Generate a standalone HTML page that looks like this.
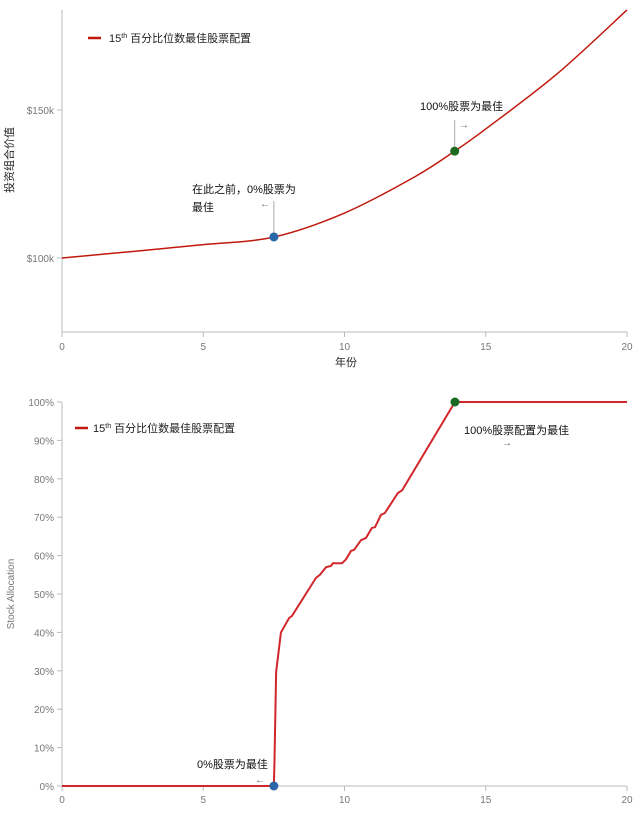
<!DOCTYPE html>
<html><head><meta charset="utf-8"><style>
body{margin:0;background:#fff;font-family:"Liberation Sans","Noto Sans CJK SC",sans-serif;}
svg text{font-family:"Liberation Sans","Noto Sans CJK SC",sans-serif;}
</style></head><body>
<svg id="c" width="642" height="826"></svg>
<script>
const valueYears=[0,2.5,5,7.5,10,12.5,13.9,15,17.5,20];
const valueK=[100,102.2,104.5,107.1,115.2,127.5,136.1,143.6,162,183.8];
const allocYears=[0,7.5,7.52,7.58,7.75,8.04,8.14,8.99,9.13,9.35,9.52,9.59,9.91,10.05,10.23,10.34,10.58,10.76,10.97,11.08,11.29,11.43,11.89,12.04,13.91,20];
const allocPct=[0,0,6,29.7,40,43.75,44.3,54.2,55,57,57.3,58,58,59,61.2,61.5,64,64.6,67.2,67.4,70.6,71.1,76.3,77,100,100];
const xTicks=[0,5,10,15,20];
const vTicks=[100,150];
const pTicks=[0,10,20,30,40,50,60,70,80,90,100];
const NS="http://www.w3.org/2000/svg";
const svg=document.getElementById('c');
function el(t,a,txt){const e=document.createElementNS(NS,t);for(const k in a)e.setAttribute(k,a[k]);if(txt!==undefined)e.textContent=txt;svg.appendChild(e);return e;}
const X=y=>62+y*28.25;
const VY=v=>258-(v-100)*2.96;
const PY=p=>786-p*3.84;
let a=el('line',{x1:62,y1:10,x2:62,y2:332,stroke:'#bbb'});
a=el('line',{x1:62,y1:332,x2:627,y2:332,stroke:'#bbb'});
xTicks.forEach(t=>{el('line',{x1:X(t),y1:332,x2:X(t),y2:337,stroke:'#bbb'});
 let tx=el('text',{x:X(t),y:350,'font-size':10,fill:'#777','text-anchor':'middle'},t);});
vTicks.forEach(t=>{el('line',{x1:57,y1:VY(t),x2:62,y2:VY(t),stroke:'#bbb'});
 let tx=el('text',{x:54,y:VY(t)+4,'font-size':10,fill:'#777','text-anchor':'end'},'$'+t+'k');});
let t=el('text',{x:346,y:366,'font-size':11,fill:'#222','text-anchor':'middle'},'年份');
t=el('text',{x:0,y:0,'font-size':11,fill:'#222','text-anchor':'middle',transform:'translate(13,160) rotate(-90)'},'投资组合价值');
let pts=valueYears.map((y,i)=>[X(y),VY(valueK[i])]);
let d='M'+pts[0];
for(let i=0;i<pts.length-1;i++){const p0=pts[Math.max(0,i-1)],p1=pts[i],p2=pts[i+1],p3=pts[Math.min(pts.length-1,i+2)];
 d+=' C'+(p1[0]+(p2[0]-p0[0])/6)+','+(p1[1]+(p2[1]-p0[1])/6)+' '+(p2[0]-(p3[0]-p1[0])/6)+','+(p2[1]-(p3[1]-p1[1])/6)+' '+p2[0]+','+p2[1];}
let p=el('path',{d:d,fill:'none',stroke:'#c0180c','stroke-width':1.5});
el('line',{x1:X(7.5),y1:VY(107.1),x2:X(7.5),y2:201,stroke:'#aaa'});
el('line',{x1:X(13.9),y1:VY(136.1),x2:X(13.9),y2:120,stroke:'#aaa'});
let c=el('circle',{cx:X(7.5),cy:VY(107.1),r:4.5,fill:'#2a67a8'});
c=el('circle',{cx:X(13.9),cy:VY(136.1),r:4.5,fill:'#1d6b22'});
t=el('text',{x:192,y:193,'font-size':11,fill:'#111'},'在此之前，0%股票为');
el('text',{x:192,y:211,'font-size':11,fill:'#111'},'最佳');
el('text',{x:260,y:207,'font-size':10,fill:'#666'},'←');
t=el('text',{x:420,y:110,'font-size':11,fill:'#111'},'100%股票为最佳');
el('text',{x:459,y:128,'font-size':10,fill:'#666'},'→');
el('line',{x1:88,y1:38,x2:101,y2:38,stroke:'#c0180c','stroke-width':2.5});
t=el('text',{x:109,y:42,'font-size':11,fill:'#222'},'');
t.innerHTML='15<tspan font-size="7" dy="-4">th</tspan><tspan dy="4"> 百分比位数最佳股票配置</tspan>';
a=el('line',{x1:62,y1:402,x2:62,y2:786,stroke:'#bbb'});
a=el('line',{x1:62,y1:786,x2:627,y2:786,stroke:'#bbb'});
xTicks.forEach(tk=>{el('line',{x1:X(tk),y1:786,x2:X(tk),y2:791,stroke:'#bbb'});
 let tx=el('text',{x:X(tk),y:803,'font-size':10,fill:'#777','text-anchor':'middle'},tk);});
pTicks.forEach(tk=>{el('line',{x1:57,y1:PY(tk),x2:62,y2:PY(tk),stroke:'#bbb'});
 let tx=el('text',{x:54,y:PY(tk)+4,'font-size':10,fill:'#777','text-anchor':'end'},tk+'%');});
t=el('text',{x:0,y:0,'font-size':10,fill:'#777','text-anchor':'middle',transform:'translate(14,594) rotate(-90)'},'Stock Allocation');
p=el('polyline',{points:allocYears.map((y,i)=>X(y)+','+PY(allocPct[i])).join(' '),fill:'none',stroke:'#d1272b','stroke-width':2});
c=el('circle',{cx:X(7.5),cy:PY(0),r:4.5,fill:'#2a67a8'});
c=el('circle',{cx:X(13.91),cy:PY(100),r:4.5,fill:'#1d6b22'});
t=el('text',{x:197,y:768,'font-size':11,fill:'#111'},'0%股票为最佳');
el('text',{x:255,y:783,'font-size':10,fill:'#666'},'←');
t=el('text',{x:464,y:434,'font-size':11,fill:'#111'},'100%股票配置为最佳');
el('text',{x:502,y:446,'font-size':10,fill:'#666'},'→');
el('line',{x1:75,y1:428,x2:88,y2:428,stroke:'#c0180c','stroke-width':2.5});
t=el('text',{x:93,y:432,'font-size':11,fill:'#222'},'');
t.innerHTML='15<tspan font-size="7" dy="-4">th</tspan><tspan dy="4"> 百分比位数最佳股票配置</tspan>';
</script>
</body></html>
